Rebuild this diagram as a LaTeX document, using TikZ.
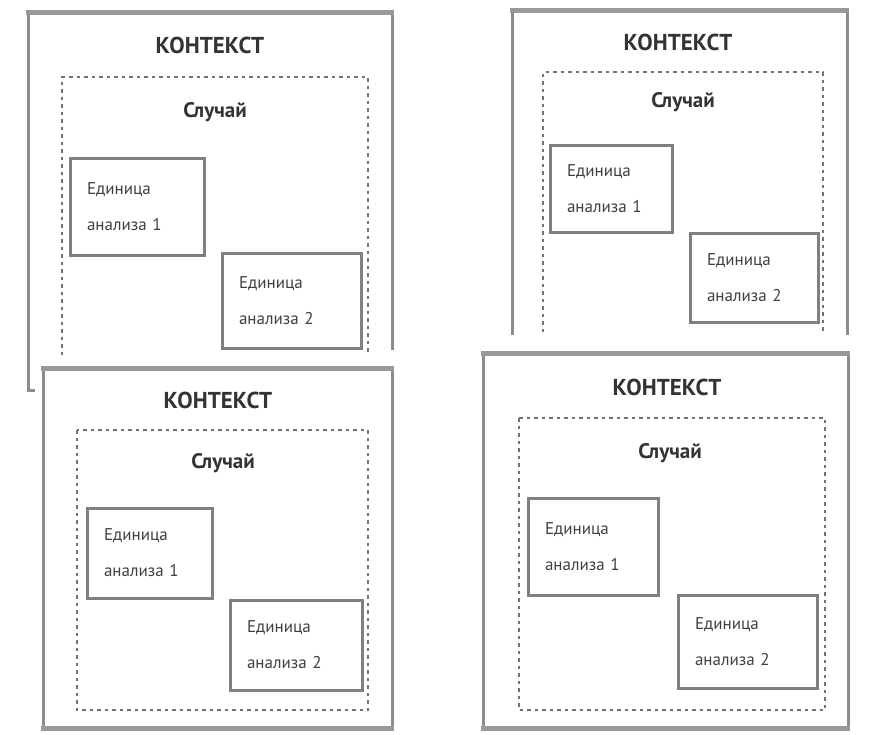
\documentclass[tikz,border=0pt]{standalone}
\usepackage{fontspec}
\setmainfont{PT Sans}
\begin{document}
\begin{tikzpicture}[x=1pt,y=-1pt,
  edge/.style={draw=black!45, line width=3pt},
  topedge/.style={draw=black!40, line width=5pt},
  dashline/.style={draw=black!55, line width=2.4pt, dash pattern=on 3.5pt off 4pt},
  ttl/.style={font=\fontsize{23}{23}\selectfont\bfseries, text=black!80},
  case/.style={font=\fontsize{21}{21}\selectfont\bfseries, text=black!80},
  unitbox/.style={draw=black!50, line width=3pt, fill=white, align=left, inner xsep=17pt, inner ysep=0pt,
     font=\fontsize{17}{36}\selectfont, text=black!75}
]
\useasboundingbox[fill=white] (0,0) rectangle (869,734);

% ---------- top-left panel ----------
\draw[dashline] (62,355) -- (62,77) -- (368,77) -- (368,355);
\draw[edge] (28,12) -- (28,390) -- (35,390);
\draw[edge] (392,12) -- (392,350);
\draw[topedge] (26,12) -- (394,12);
\node[ttl] (tlT) at (210,45) {КОНТЕКСТ};
\node[case] (tlC) at (215,112) {Случай};
\node[unitbox, minimum width=134pt, minimum height=97pt, text width=100pt] (tl1) at (137,206.5) {Единица\\анализа 1};
\node[unitbox, minimum width=139pt, minimum height=95pt, text width=105pt] (tl2) at (291.5,300.5) {Единица\\анализа 2};

% ---------- top-right panel ----------
\draw[dashline] (543,332) -- (543,72) -- (823,72) -- (823,332);
\draw[edge] (512,10) -- (512,335);
\draw[edge] (847,10) -- (847,335);
\draw[topedge] (510,10) -- (849,10);
\node[ttl] (trT) at (678,42) {КОНТЕКСТ};
\node[case] (trC) at (683,102) {Случай};
\node[unitbox, minimum width=122pt, minimum height=87pt, text width=88pt] (tr1) at (611,188.5) {Единица\\анализа 1};
\node[unitbox, minimum width=128pt, minimum height=89pt, text width=94pt] (tr2) at (754,277.5) {Единица\\анализа 2};

% ---------- bottom-left panel ----------
\draw[edge, fill=white] (43,368) rectangle (392,728);
\draw[topedge] (41,368) -- (394,368);
\draw[topedge] (41,728) -- (394,728);
\draw[dashline] (77,430) rectangle (368,710);
\node[ttl] (blT) at (218,400) {КОНТЕКСТ};
\node[case] (blC) at (223,463) {Случай};
\node[unitbox, minimum width=125pt, minimum height=90pt, text width=91pt] (bl1) at (149.5,553) {Единица\\анализа 1};
\node[unitbox, minimum width=132pt, minimum height=90pt, text width=98pt] (bl2) at (296,645) {Единица\\анализа 2};

% ---------- bottom-right panel ----------
\draw[edge, fill=white] (483,353) rectangle (848,728);
\draw[topedge] (481,353) -- (850,353);
\draw[topedge] (481,728) -- (850,728);
\draw[dashline] (519,418) rectangle (825,710);
\node[ttl] (brT) at (667,387) {КОНТЕКСТ};
\node[case] (brC) at (670,453) {Случай};
\node[unitbox, minimum width=130pt, minimum height=97pt, text width=96pt] (br1) at (593,546.5) {Единица\\анализа 1};
\node[unitbox, minimum width=139pt, minimum height=93pt, text width=105pt] (br2) at (747.5,641.5) {Единица\\анализа 2};
\end{tikzpicture}
\end{document}
